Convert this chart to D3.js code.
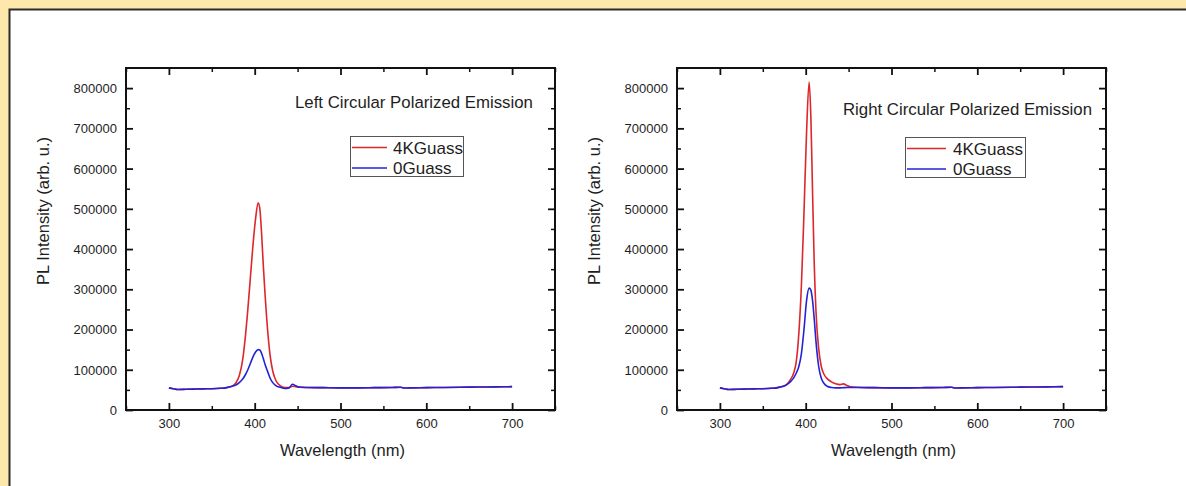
<!DOCTYPE html>
<html>
<head>
<meta charset="utf-8">
<script src="https://cdn.jsdelivr.net/npm/d3@7"></script>
<style>
  html, body { margin: 0; padding: 0; background: #fde7ab; }
  svg { display: block; font-family: "Liberation Sans", Arial, Helvetica, sans-serif; }
</style>
</head>
<body>
<svg id="chart" width="1186" height="486"></svg>
<script>
// Wavelength grid (nm) shared by all four spectra
const wavelength = [300, 305, 310, 320, 330, 340, 350, 360, 366, 370, 374, 378, 382, 386, 389, 392, 395, 398, 401, 404, 406, 408, 410, 412, 415, 418, 421, 425, 430, 435, 440, 444, 448, 452, 460, 480, 500, 520, 540, 560, 570, 575, 580, 600, 620, 640, 660, 680, 700];

// Left circular polarized emission, PL intensity (arb. u.)
const lcp4KGauss = [55000, 53000, 51000, 51500, 52000, 52500, 53000, 54000, 55000, 57000, 60000, 67000, 85000, 125000, 180000, 250000, 330000, 410000, 475000, 515000, 500000, 440000, 360000, 290000, 200000, 135000, 97000, 72000, 60000, 56000, 56000, 59000, 58000, 56500, 56000, 55500, 55000, 55000, 55500, 56000, 56500, 54500, 55000, 55500, 56000, 56500, 57000, 57500, 58000];
const lcp0Gauss = [55000, 53000, 51000, 51500, 52000, 52500, 53000, 54000, 55000, 57000, 59000, 62000, 68000, 77000, 87000, 100000, 116000, 132000, 144000, 150000, 149000, 141000, 128000, 114000, 96000, 79000, 68000, 60000, 56500, 53500, 55000, 64000, 60000, 57000, 56000, 55500, 55000, 55000, 55500, 56000, 56500, 54500, 55000, 55500, 56000, 56500, 57000, 57500, 58000];

// Right circular polarized emission, PL intensity (arb. u.)
const rcp4KGauss = [55000, 53000, 51000, 51500, 52000, 52500, 53000, 54000, 55000, 57000, 59000, 64000, 75000, 92000, 120000, 190000, 310000, 490000, 690000, 815000, 730000, 540000, 360000, 245000, 155000, 110000, 90000, 78000, 70000, 65000, 63000, 65000, 61000, 58000, 56500, 55500, 55000, 55000, 55500, 56000, 56500, 54500, 55000, 55500, 56000, 56500, 57000, 57500, 58000];
const rcp0Gauss = [55000, 53000, 51000, 51500, 52000, 52500, 53000, 54000, 55000, 57000, 59000, 63000, 70000, 80000, 92000, 108000, 140000, 200000, 272000, 303000, 298000, 272000, 225000, 170000, 110000, 80000, 67000, 59000, 56000, 55000, 55000, 55500, 56000, 56000, 56000, 55500, 55000, 55000, 55500, 56000, 56500, 54500, 55000, 55500, 56000, 56500, 57000, 57500, 58000];

// Axis ticks
const xMajorTicks = [300, 400, 500, 600, 700];
const xMinorTicks = [250, 350, 450, 550, 650, 750];
const yMajorTicks = [0, 100000, 200000, 300000, 400000, 500000, 600000, 700000, 800000];
const yMinorTicks = [50000, 150000, 250000, 350000, 450000, 550000, 650000, 750000];

const seriesNames = ["4KGuass", "0Guass"];
const seriesColors = ["#dc272c", "#2323d6"];
const panelTitles = ["Left Circular Polarized Emission", "Right Circular Polarized Emission"];
const xTitle = "Wavelength (nm)";
const yTitle = "PL Intensity (arb. u.)";

const svg = d3.select("#chart");

// Page panel: white sheet with dark top/left edge
svg.append("rect").attr("x", 0).attr("y", 0).attr("width", 1186).attr("height", 486).attr("fill", "#fde7ab");
svg.append("rect").attr("x", 9.5).attr("y", 9.5).attr("width", 1200).attr("height", 500)
  .attr("fill", "#ffffff").attr("stroke", "#2b2b2b").attr("stroke-width", 2);

const panels = [
  { left: 126, title: panelTitles[0], series: [lcp4KGauss, lcp0Gauss],
    titleX: 169, titleY: 108, legX: 224, legY: 136, legW: 113, textDx: 43, lineW: 35 },
  { left: 677, title: panelTitles[1], series: [rcp4KGauss, rcp0Gauss],
    titleX: 166, titleY: 115, legX: 228, legY: 137, legW: 120, textDx: 48, lineW: 39 }
];

const W = 429, H = 342, TOP = 68;

panels.forEach(p => {
  const g = svg.append("g").attr("transform", `translate(${p.left},${TOP})`);
  const x = d3.scaleLinear().domain([250, 750]).range([0, W]);
  const y = d3.scaleLinear().domain([0, 850000]).range([H, 0]);

  // Inward-pointing ticks on all four sides; labels only on bottom and left
  const axes = [
    { ax: d3.axisBottom(x), t: `translate(0,${H})`, major: xMajorTicks, minor: xMinorTicks, labels: "x" },
    { ax: d3.axisTop(x), t: `translate(0,0)`, major: xMajorTicks, minor: xMinorTicks, labels: null },
    { ax: d3.axisLeft(y), t: `translate(0,0)`, major: yMajorTicks, minor: yMinorTicks, labels: "y" },
    { ax: d3.axisRight(y), t: `translate(${W},0)`, major: yMajorTicks, minor: yMinorTicks, labels: null }
  ];
  axes.forEach(a => {
    const minorG = g.append("g").attr("transform", a.t)
      .call(a.ax.tickValues(a.minor).tickSize(-4).tickFormat(""));
    minorG.select(".domain").remove();
    minorG.selectAll(".tick line").attr("stroke", "#111").attr("stroke-width", 1.5);

    const majorG = g.append("g").attr("transform", a.t)
      .call(a.ax.tickValues(a.major).tickSize(-7).tickFormat(a.labels ? d3.format("d") : ""));
    majorG.select(".domain").remove();
    majorG.selectAll(".tick line").attr("stroke", "#111").attr("stroke-width", 1.8);
    const labels = majorG.selectAll(".tick text").attr("fill", "#1e1e1e").attr("font-size", 13);
    // Labels sit outside the frame even though ticks point inward
    if (a.labels === "y") labels.attr("x", -9).attr("dy", "0.34em");
    if (a.labels === "x") labels.attr("y", 8).attr("dy", "0.8em");
  });

  // Frame
  g.append("rect").attr("x", 0).attr("y", 0).attr("width", W).attr("height", H)
    .attr("fill", "none").attr("stroke", "#111").attr("stroke-width", 2);

  // Spectra (0 Gauss drawn over 4K Gauss)
  const line = d3.line().x((d, i) => x(wavelength[i])).y(d => y(d)).curve(d3.curveMonotoneX);
  p.series.forEach((vals, k) => {
    g.append("path").datum(vals).attr("d", line)
      .attr("fill", "none").attr("stroke", seriesColors[k]).attr("stroke-width", 1.6);
  });

  // Panel title
  g.append("text").attr("x", p.titleX).attr("y", p.titleY - TOP)
    .attr("font-size", 16.8).attr("fill", "#1e1e1e").text(p.title);

  // Legend
  const lg = g.append("g").attr("transform", `translate(${p.legX},${p.legY - TOP})`);
  lg.append("rect").attr("x", 0.5).attr("y", 0.5).attr("width", p.legW).attr("height", 40)
    .attr("fill", "#fff").attr("stroke", "#555").attr("stroke-width", 1);
  seriesNames.forEach((name, k) => {
    const cy = 11.5 + k * 20.5;
    lg.append("line").attr("x1", 2).attr("x2", 2 + p.lineW).attr("y1", cy).attr("y2", cy)
      .attr("stroke", seriesColors[k]).attr("stroke-width", 1.6);
    lg.append("text").attr("x", p.textDx).attr("y", cy).attr("dy", "0.36em")
      .attr("font-size", 17).attr("fill", "#1e1e1e").text(name);
  });

  // Axis titles
  g.append("text").attr("x", W / 2 + 2).attr("y", 450 - TOP)
    .attr("text-anchor", "middle").attr("dy", "0.35em").attr("font-size", 16.5).attr("fill", "#1e1e1e")
    .text(xTitle);
  g.append("text").attr("transform", `translate(${43 - 126},${211 - TOP}) rotate(-90)`)
    .attr("text-anchor", "middle").attr("dy", "0.35em").attr("font-size", 16.5).attr("fill", "#1e1e1e")
    .text(yTitle);
});
</script>
</body>
</html>
